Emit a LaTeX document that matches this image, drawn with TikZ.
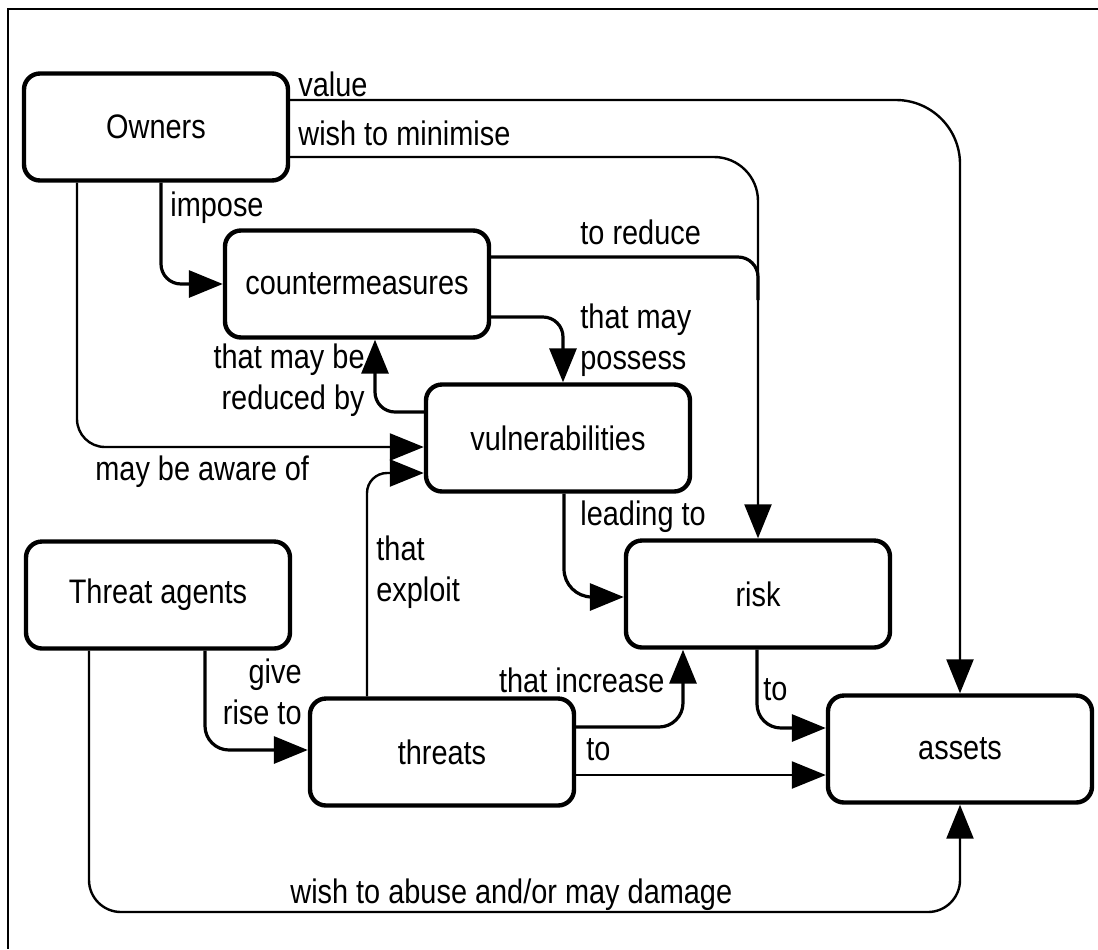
\documentclass[tikz,border=0pt]{standalone}
\usepackage{fontspec}
\setmainfont{Liberation Sans}[FakeStretch=0.85]
\usetikzlibrary{arrows.meta}

\tikzset{
  every node/.style={font=\fontsize{17pt}{20.5pt}\selectfont},
  box/.style={draw, line width=2.2pt, rounded corners=8pt,
    minimum width=132pt, minimum height=53.5pt, inner sep=0pt},
  link/.style={line width=1.6pt},
  thinlink/.style={line width=1.2pt},
  tip/.style={-{Triangle[length=17pt,width=13.5pt]}},
  lbl/.style={inner sep=0pt},
}

\begin{document}
\begin{tikzpicture}[x=0.5pt, y=-0.5pt]
    \useasboundingbox (0,0) rectangle (1098,949);
    % Frame
    \draw[line width=1.3pt] (1098,9) -- (8,9) -- (8,949);
    % Boxes
    \node[box] (owners)  at (156,127) {Owners};
    \node[box] (counter) at (357,284) {countermeasures};
    \node[box] (vuln)    at (558,438) {vulnerabilities};
    \node[box] (agents)  at (158,595) {Threat agents};
    \node[box] (threats) at (442,752) {threats};
    \node[box] (risk)    at (758,594) {risk};
    \node[box] (assets)  at (960,749) {assets};
    % Owners
    \draw[thinlink, tip, rounded corners=32pt] (owners.east |- 0,100) -| (assets.north);
    \draw[thinlink, tip, rounded corners=22pt] (owners.east |- 0,157) -| (risk.north);
    \draw[link, tip, rounded corners=10pt] (owners.south -| 161,0) |- (counter.west);
    \draw[thinlink, tip, rounded corners=14pt] (owners.south -| 77,0) |- (vuln.west |- 0,447);
    \node[lbl, anchor=west] (valuelbl)    at (298,84)  {value};
    \node[lbl, anchor=west] (minimiselbl) at (298,133) {wish to minimise};
    \node[lbl, anchor=west] (imposelbl)   at (170,208) {impose};
    \node[lbl, anchor=west] (awarelbl)    at (95,472)  {may be aware of};
    % Countermeasures
    \draw[link, rounded corners=10pt] (counter.east |- 0,257) -| (risk.north |- 0,300);
    \draw[link, tip, rounded corners=10pt] (counter.east |- 0,317) -| (vuln.north -| 563,0);
    \node[lbl, anchor=west] (reducelbl) at (580,232) {to reduce};
    \node[lbl, anchor=west, align=left] (possesslbl) at (580,340) {that may\\possess};
    % Vulnerabilities
    \draw[link, tip, rounded corners=10pt] (vuln.west |- 0,412) -| (counter.south -| 375,0);
    \draw[link, tip, rounded corners=14pt] (vuln.south -| 564,0) |- (risk.west |- 0,597);
    \node[lbl, anchor=east, align=right] (reducedlbl) at (365,380) {that may be\\reduced by};
    \node[lbl, anchor=west] (leadinglbl) at (580,517) {leading to};
    % Threat agents
    \draw[link, tip, rounded corners=12pt] (agents.south -| 205,0) |- (threats.west |- 0,750);
    \draw[thinlink, tip, rounded corners=16pt] (agents.south -| 89,0) |- (assets.south |- 0,912) -- (assets.south);
    \node[lbl, anchor=east, align=right] (riselbl) at (302,692) {give\\rise to};
    \node[lbl, anchor=west] (abuselbl) at (290,895) {wish to abuse and/or may damage};
    % Threats
    \draw[thinlink, tip, rounded corners=10pt] (threats.north -| 367,0) |- (vuln.west |- 0,473);
    \draw[link, tip, rounded corners=12pt] (threats.east |- 0,727) -| (risk.south -| 683,0);
    \draw[thinlink, tip] (threats.east |- 0,775) -- (assets.west |- 0,775);
    \node[lbl, anchor=west, align=left] (exploitlbl) at (376,572) {that\\exploit};
    \node[lbl, anchor=east] (increaselbl) at (665,680) {that increase};
    \node[lbl, anchor=west] (tolbl) at (586,750) {to};
    % Risk
    \draw[link, tip, rounded corners=12pt] (risk.south -| 757,0) |- (assets.west |- 0,728);
    \node[lbl, anchor=west] (riskto) at (763,690) {to};
\end{tikzpicture}
\end{document}
